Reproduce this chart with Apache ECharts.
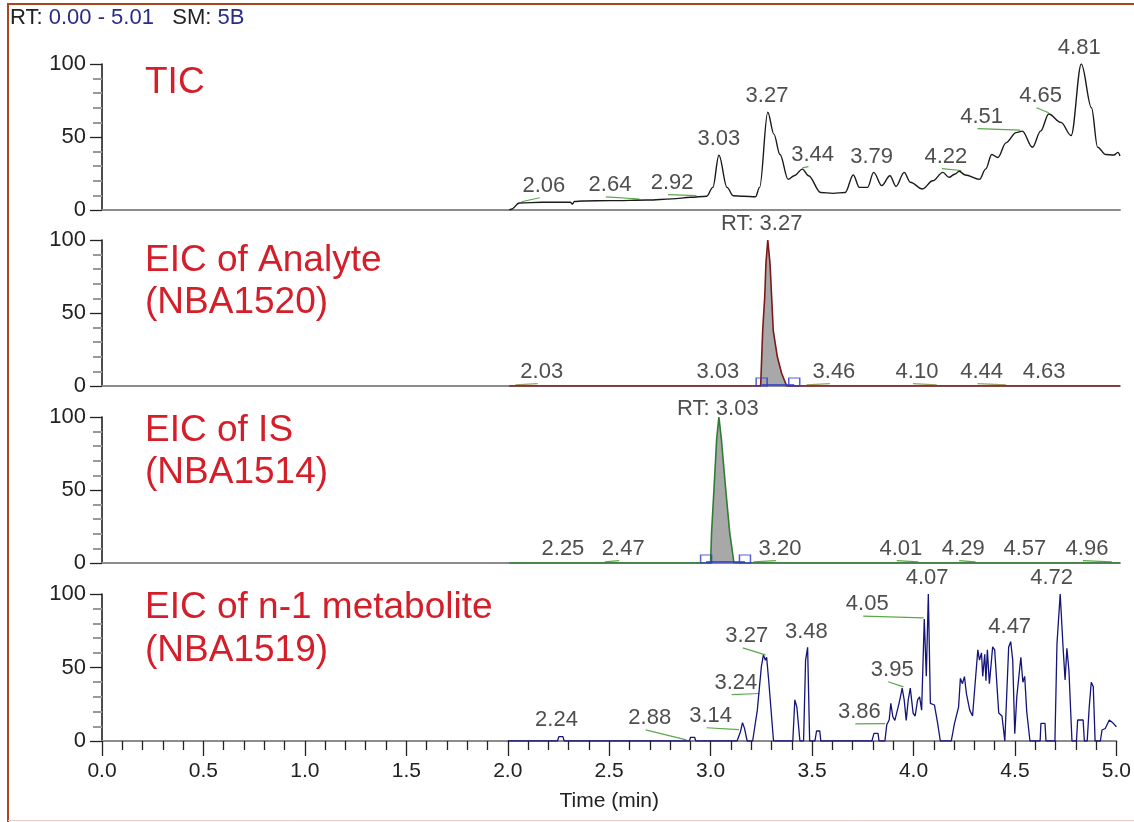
<!DOCTYPE html>
<html>
<head>
<meta charset="utf-8">
<script src="https://cdn.jsdelivr.net/npm/echarts@6/dist/echarts.min.js"></script>
<style>
html,body{margin:0;padding:0;background:#fff;}
#chart{width:1134px;height:822px;}
</style>
</head>
<body>
<div id="chart"></div>
<script>
// ---------------- DATA ----------------
const ticTime  = [2.00,2.01,2.05,2.16,2.30,2.31,2.32,2.36,2.50,2.68,2.80,2.89,2.97,3.00,3.03,3.07,3.10,3.15,3.21,3.23,3.27,3.30,3.33,3.37,3.40,3.44,3.47,3.53,3.59,3.65,3.69,3.72,3.76,3.79,3.83,3.87,3.90,3.94,3.97,4.03,4.08,4.13,4.16,4.19,4.21,4.24,4.31,4.34,4.37,4.40,4.44,4.49,4.52,4.57,4.61,4.65,4.71,4.76,4.81,4.86,4.89,4.93,4.97,4.99,5.00];
const ticValue = [0,0.5,4.8,5.3,5.3,4.0,5.8,6.2,6.4,6.8,7.6,8.7,9.4,15.5,37.5,15.5,9.8,9.4,9.1,15.5,67,52,38,21,23.5,28,23.5,12,11.4,12,24,15.5,15.5,25.8,16.7,23.5,16.2,25.8,19,14.4,20,25.8,22.4,24.7,26.5,24,21,28,38,36,46,53,54,43,54,65.8,60,51,100,70,43,38,37.7,39.5,37];

const anaTime  = [2.00,3.235,3.245,3.255,3.261,3.27,3.281,3.289,3.297,3.317,3.338,3.363,5.00];
const anaValue = [0,0,38,61,84,100,84,61,38,20,8.7,0,0];

const isTime   = [2.00,2.989,2.994,3.006,3.019,3.03,3.042,3.063,3.083,3.104,5.00];
const isValue  = [0,0,21,51,85,100,85,51,21,0,0];

const metTime  = [2.00,2.245,2.252,2.272,2.278,2.895,2.901,2.921,2.927,3.13,3.147,3.157,3.167,3.18,3.207,3.23,3.25,3.26,3.27,3.276,3.286,3.31,3.405,3.415,3.425,3.44,3.458,3.468,3.478,3.488,3.514,3.522,3.538,3.543,3.795,3.805,3.825,3.83,3.859,3.868,3.88,3.888,3.898,3.908,3.924,3.934,3.944,3.954,3.964,3.974,3.984,3.998,4.008,4.02,4.03,4.04,4.053,4.063,4.073,4.083,4.103,4.119,4.132,4.186,4.202,4.222,4.231,4.241,4.251,4.261,4.277,4.291,4.301,4.317,4.325,4.335,4.341,4.351,4.357,4.364,4.374,4.39,4.40,4.42,4.436,4.45,4.456,4.469,4.479,4.489,4.499,4.509,4.529,4.539,4.548,4.558,4.574,4.624,4.628,4.648,4.653,4.697,4.707,4.723,4.737,4.747,4.756,4.766,4.781,4.803,4.809,4.836,4.842,4.856,4.866,4.876,4.886,4.895,4.921,4.929,4.945,4.965,4.985,5.00];
const metValue = [0,0,3,3,0,0,2.5,2.5,0,0,6.3,12.5,8.6,0,0,21,50.6,58.5,55,57,41.5,0,0,28,23,0,0,55,63.7,0,0,6.8,6.8,0,0,5.2,5.2,0,0,11,14.3,25.6,16.5,14,23,29,36,28,14,28,36,19,17,28,30,21,83,44,100,25.6,24.5,12,0,0,12,23,42.6,39,43.8,32,21,17,34.7,62,55,60,44,59,41,62,39,64,62,19,17,0,0,64,67.6,55,5,30,57,40,44,20,0,0,12,12,0,0,66,100,64,41.5,63,48,0,0,14.3,14.3,0,0,23,40,37,0,0,7.5,8.5,14.3,12,9.7];

// peak annotation labels: [text, time, relative abundance]
const ticLabels = [["2.06",2.17,16.4],["2.64",2.495,17],["2.92",2.80,18.5],["3.03",3.03,48.6],["3.27",3.266,78],["3.44",3.49,37.7],["3.79",3.78,36.3],["4.22",4.145,36.3],["4.51",4.32,63.7],["4.65",4.61,78],["4.81",4.80,111]];
const anaLabels = [["RT: 3.27",3.24,111],["2.03",2.16,9.6],["3.03",3.025,9.6],["3.46",3.595,9.6],["4.10",4.003,9.6],["4.44",4.32,9.6],["4.63",4.627,9.6]];
const isLabels  = [["RT: 3.03",3.025,105.5],["2.25",2.264,9.6],["2.47",2.56,9.6],["3.20",3.33,9.6],["4.01",3.924,9.6],["4.29",4.23,9.6],["4.57",4.533,9.6],["4.96",4.838,9.6]];
const metLabels = [["2.24",2.24,14.3],["2.88",2.70,15.6],["3.14",3.00,17],["3.24",3.124,39.5],["3.27",3.178,71.4],["3.48",3.472,74],["3.86",3.733,19.7],["3.95",3.895,48.3],["4.05",3.772,93],["4.07",4.067,111],["4.47",4.474,77.6],["4.72",4.681,111]];

// integration boundaries of the target peaks
const anaBounds = [3.24, 3.40];
const isBounds  = [2.967, 3.158];

const yTicks = [0, 50, 100];
const xTicks = ["0.0","0.5","1.0","1.5","2.0","2.5","3.0","3.5","4.0","4.5","5.0"];

// ---------------- CHART ----------------
const FONT = "'Liberation Sans', Arial, sans-serif";
const chart = echarts.init(document.getElementById('chart'), null, {renderer:'canvas'});

const gridTops = [64, 240, 417, 594];
const gridH = [146, 146, 146, 147];

function zip(a, b){ return a.map((t,i)=>[t,b[i]]); }
function peakNear(ts, vs, t, w){
  let m = 0;
  for (let i=0;i<ts.length-1;i++){
    const a=ts[i], b=ts[i+1];
    if (b < t-w || a > t+w) continue;
    for (let k=0;k<=10;k++){
      const x = a + (b-a)*k/10;
      if (x < t-w || x > t+w) continue;
      const v = vs[i] + (vs[i+1]-vs[i])*k/10;
      if (v > m) m = v;
    }
  }
  return m;
}

const panels = [
  {time:ticTime, value:ticValue, labels:ticLabels, color:'#1a1a1a', area:false, smooth:0.35, leader:'#5aa84a', lw:1.4},
  {time:anaTime, value:anaValue, labels:anaLabels, color:'#7d1818', area:true, smooth:false, leader:'#a89a60', bounds:anaBounds, lw:1.6},
  {time:isTime, value:isValue, labels:isLabels, color:'#2f7d32', area:true, smooth:false, leader:'#5aa84a', bounds:isBounds, lw:1.6},
  {time:metTime, value:metValue, labels:metLabels, color:'#14147a', area:false, smooth:false, leader:'#5aa84a', lw:1.3}
];

const grids=[], xAxes=[], yAxes=[], series=[];
panels.forEach((p,i)=>{
  const last = i===3;
  grids.push({left:102, right:14, top:gridTops[i], height:gridH[i], containLabel:false});
  xAxes.push({
    type:'value', gridIndex:i, min:0, max:5, interval:0.5,
    axisLine:{show:true, onZero:false, lineStyle:{color:'#8c8c8c', width:2}},
    axisTick:{show:last, length:15, lineStyle:{color:'#222', width:1.3}},
    minorTick:{show:last, splitNumber:5, length:9, lineStyle:{color:'#222', width:1.3}},
    axisLabel:{show:last, fontSize:21, color:'#222', fontFamily:FONT, margin:20,
      formatter:(v)=>{ const s=v.toFixed(1); return xTicks.indexOf(s)>=0 ? s : ''; }},
    splitLine:{show:false}, minorSplitLine:{show:false},
    name: last ? 'Time (min)' : '', nameLocation:'middle', nameGap:50,
    nameTextStyle:{fontSize:21, color:'#222', fontFamily:FONT}
  });
  yAxes.push({
    type:'value', gridIndex:i, min:0, max:100, interval:50,
    axisLine:{show:true, onZero:false, lineStyle:{color:'#111', width:1.5}},
    axisTick:{show:true, length:12, lineStyle:{color:'#222', width:1.3}},
    minorTick:{show:true, splitNumber:5, length:9, lineStyle:{color:'#999', width:2}},
    axisLabel:{fontSize:22, color:'#222', fontFamily:FONT, margin:16,
      formatter:(v)=> yTicks.indexOf(v)>=0 ? String(v) : ''},
    splitLine:{show:false}, minorSplitLine:{show:false}
  });
  // trace
  series.push({
    type:'line', xAxisIndex:i, yAxisIndex:i, data:zip(p.time,p.value),
    showSymbol:false, symbol:'none', smooth:p.smooth, smoothMonotone:'x',
    lineStyle:{color:p.color, width:p.lw}, clip:true,
    areaStyle: p.area ? {color:'#a8a8a8', opacity:1} : undefined,
    z:3
  });
  // leader lines
  const leaders=[];
  p.labels.forEach(l=>{
    const rt=parseFloat(l[0]);
    if (isNaN(rt) || Math.abs(l[1]-rt)<0.04) return;
    const vEnd = Math.min(peakNear(p.time,p.value,rt,0.008), l[2]-8) + 0.8;
    leaders.push({coords:[[l[1]-0.02, l[2]-8],[rt, vEnd]]});
  });
  series.push({
    type:'lines', coordinateSystem:'cartesian2d', xAxisIndex:i, yAxisIndex:i,
    data:leaders, polyline:false, lineStyle:{color:p.leader, width:1.2, opacity:1, curveness:0}, z:2,
    silent:true
  });
  // labels
  series.push({
    type:'scatter', xAxisIndex:i, yAxisIndex:i, clip:false, symbolSize:1,
    itemStyle:{color:'rgba(0,0,0,0)'},
    data:p.labels.map(l=>({name:l[0], value:[l[1],l[2]]})),
    label:{show:true, position:'inside', formatter:'{b}', fontSize:22, color:'#222', fontFamily:FONT},
    z:5, silent:true
  });
  // integration markers
  if (p.bounds){
    series.push({
      type:'line', xAxisIndex:i, yAxisIndex:i, data:p.bounds.map(b=>[b,0.6]),
      showSymbol:false, symbol:'none', lineStyle:{color:'#2a3ad0', width:1.5}, z:4
    });
    series.push({
      type:'scatter', xAxisIndex:i, yAxisIndex:i, clip:false,
      symbol:'rect', symbolSize:[11,8], symbolOffset:[0,-4],
      itemStyle:{color:'rgba(255,255,255,0)', borderColor:'#2a3ad0', borderWidth:1.3},
      data:p.bounds.map(b=>[b,0]), z:6
    });
  }
});

const titleStyle = {fill:'#d41e2a', fontSize:37, fontFamily:FONT, align:'left', verticalAlign:'top'};
const panelTitles = [["TIC",80],["EIC of Analyte",258],["(NBA1520)",300],["EIC of IS",428],["(NBA1514)",470],["EIC of n-1 metabolite",605],["(NBA1519)",648]];

const option = {
  animation:false,
  backgroundColor:'#fff',
  title:{
    left:5, top:2,
    text:'{k|RT:} {v|0.00 - 5.01}   {k|SM:} {v|5B}',
    textStyle:{fontSize:22, fontFamily:FONT, fontWeight:'normal',
      rich:{k:{fontSize:22, color:'#222', fontFamily:FONT}, v:{fontSize:22, color:'#2a2a8a', fontFamily:FONT}}}
  },
  grid:grids, xAxis:xAxes, yAxis:yAxes, series:series,
  graphic:[
    {type:'line', shape:{x1:8,y1:4,x2:1134,y2:4}, style:{stroke:'#a9471c', lineWidth:2}, silent:true},
    {type:'line', shape:{x1:8,y1:3,x2:8,y2:822}, style:{stroke:'#b0441a', lineWidth:2}, silent:true},
    {type:'line', shape:{x1:8,y1:820.5,x2:1134,y2:820.5}, style:{stroke:'#f0c8c8', lineWidth:1}, silent:true}
  ].concat(panelTitles.map(t=>({type:'text', left:145, top:t[1]-16, style:Object.assign({text:t[0]}, titleStyle), silent:true})))
};
chart.setOption(option);
</script>
</body>
</html>
